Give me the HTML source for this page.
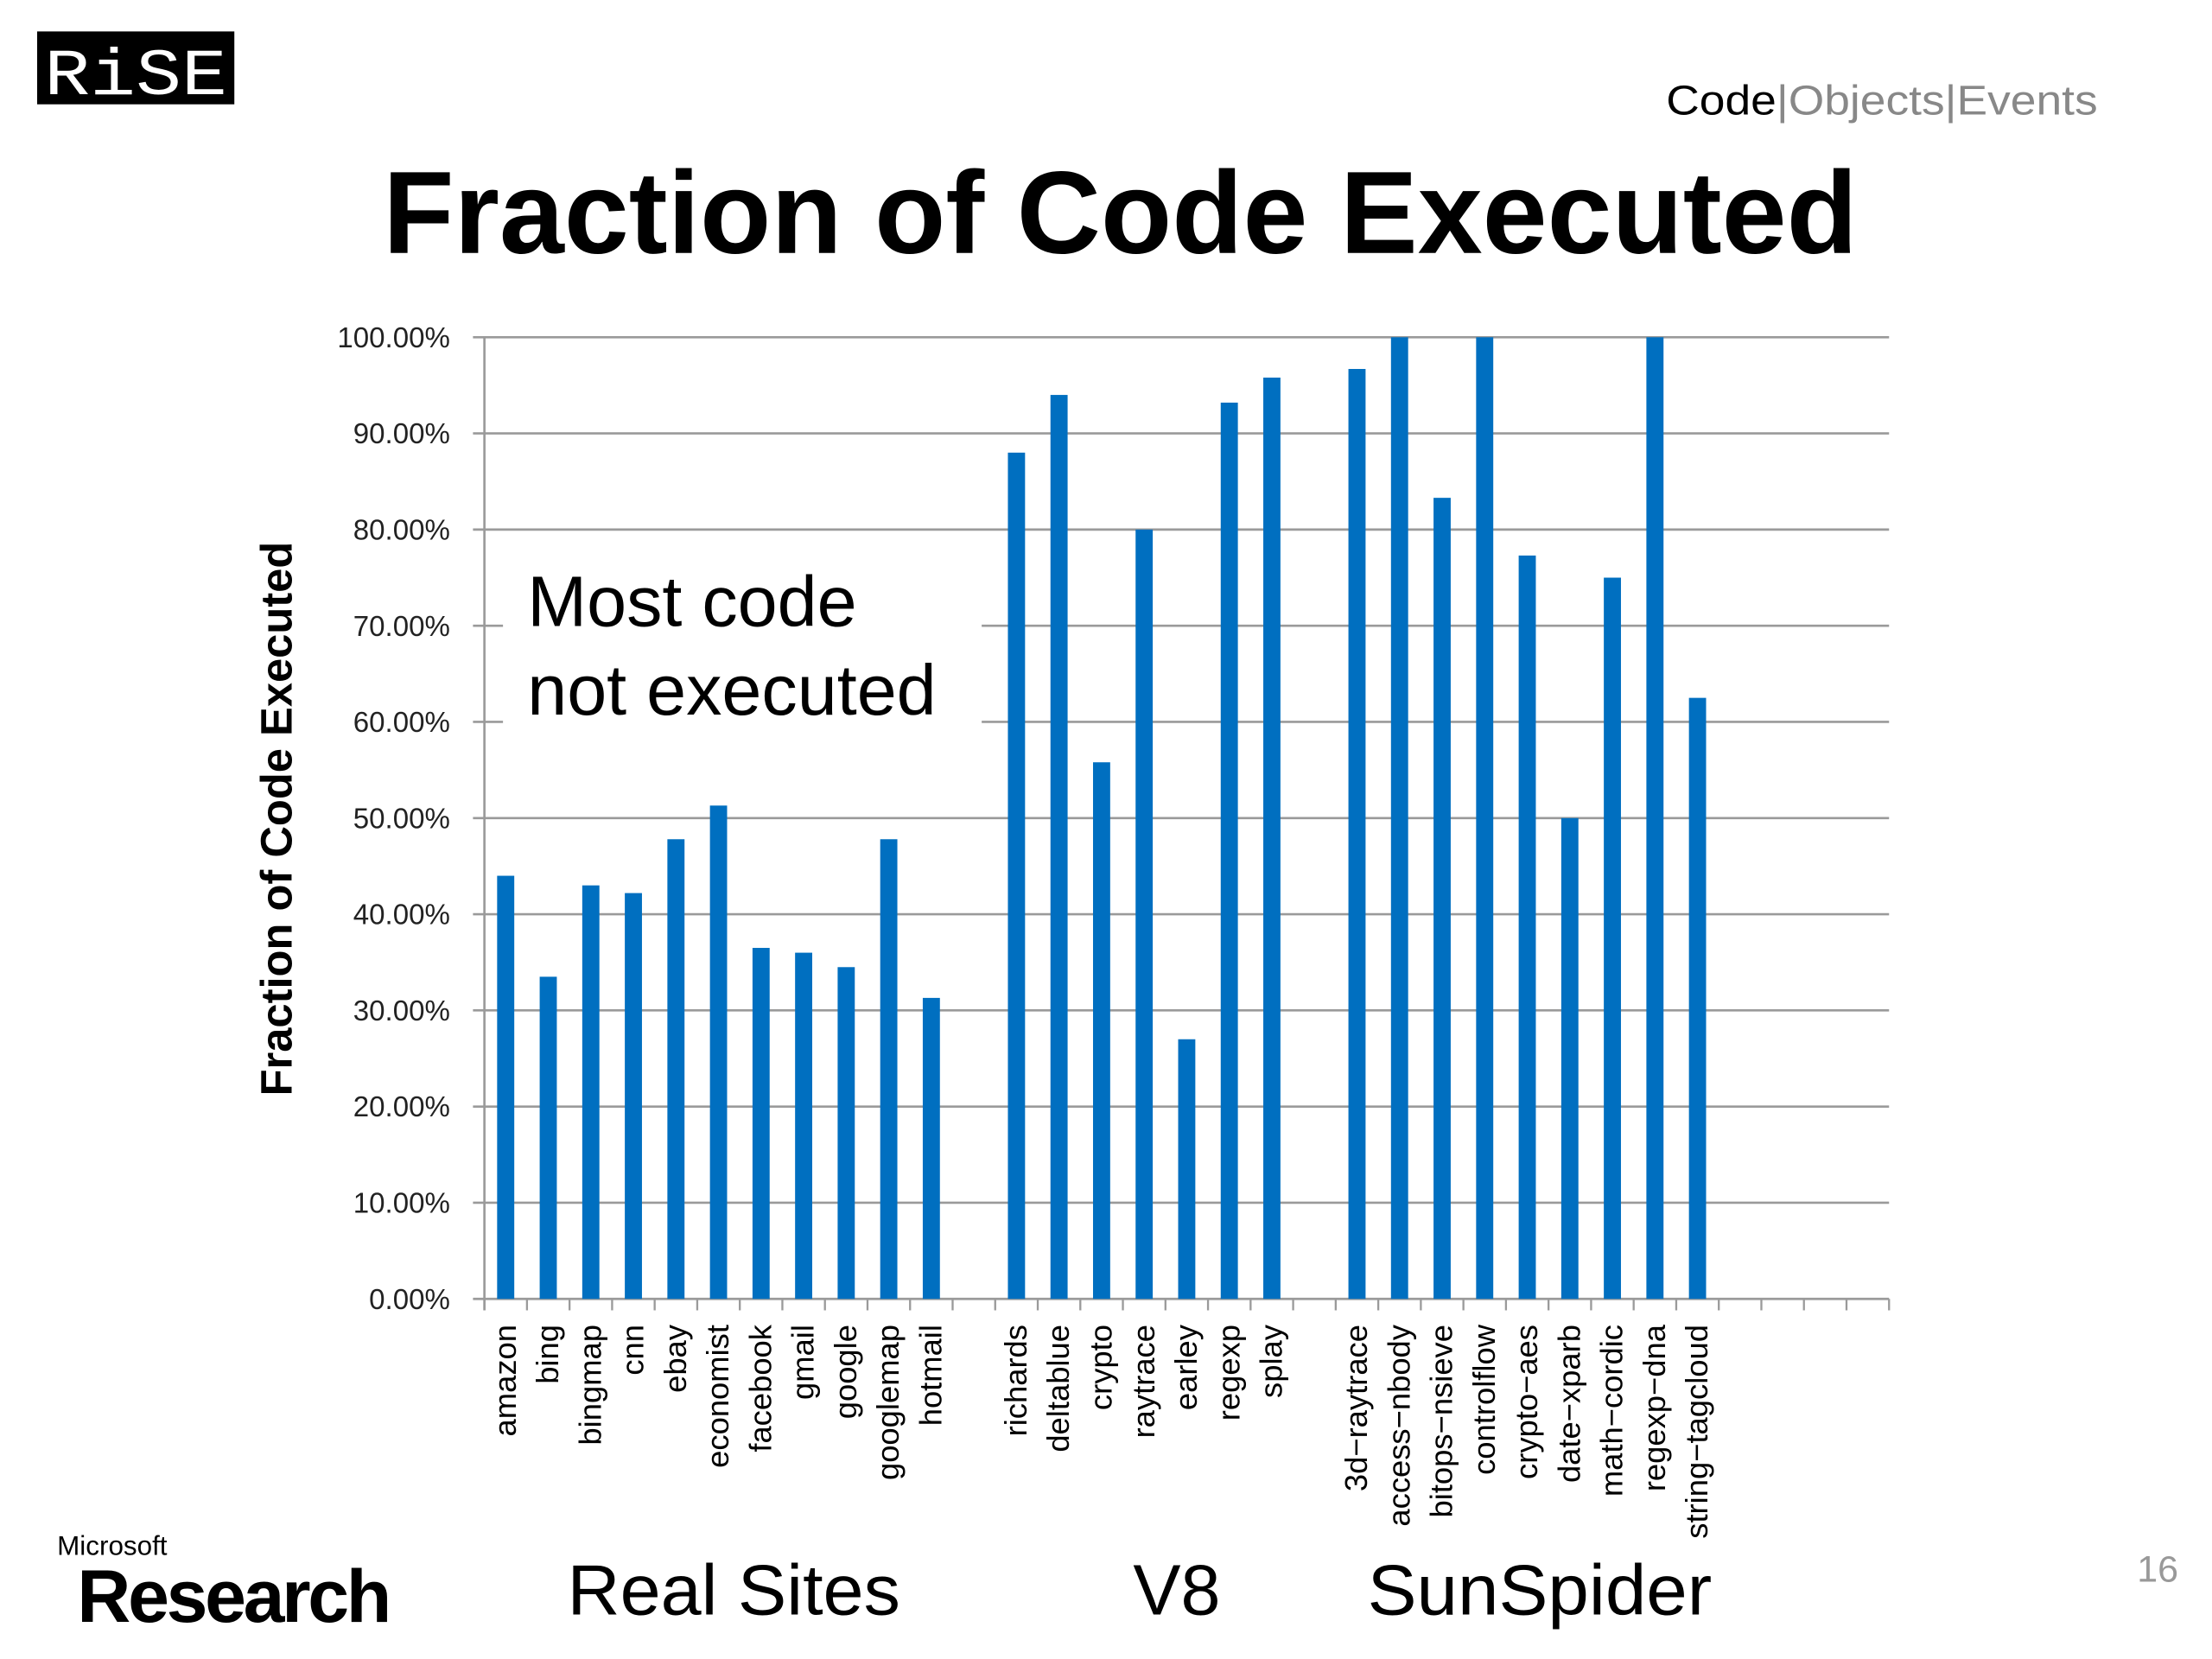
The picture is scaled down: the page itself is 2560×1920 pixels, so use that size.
<!DOCTYPE html>
<html><head><meta charset="utf-8">
<style>
html,body{margin:0;padding:0;background:#fff;}
svg{display:block;}
</style></head>
<body>
<svg id="chart" width="2560" height="1920" viewBox="0 0 1548 1161" xmlns="http://www.w3.org/2000/svg" font-family="Liberation Sans, sans-serif">
<rect x="0" y="0" width="1548" height="1161" fill="#fff"/>
<g>
<rect x="26" y="22" width="138" height="51" fill="#000"/>
<text x="95" y="66" text-anchor="middle" font-family="Liberation Mono, monospace" font-size="46" fill="#fff" textLength="128" lengthAdjust="spacingAndGlyphs">RiSE</text>
</g>
<text x="1166" y="80" font-size="29" fill="#000" textLength="302" lengthAdjust="spacingAndGlyphs">Code<tspan fill="#888">|Objects|Events</tspan></text>
<text x="268" y="177" font-size="82" font-weight="bold" fill="#000" textLength="1032" lengthAdjust="spacingAndGlyphs">Fraction of Code Executed</text>
<text transform="translate(204,573) rotate(-90)" text-anchor="middle" font-size="31" font-weight="bold" fill="#000" textLength="388" lengthAdjust="spacingAndGlyphs">Fraction of Code Executed</text>
<g id="grid"></g>
<g id="bars"></g>
<g id="xlabels"></g>
<g>
<rect x="352" y="382" width="335" height="140" fill="#fff"/>
<text x="369" y="438" font-size="50" fill="#000">Most code</text>
<text x="369" y="500" font-size="50" fill="#000">not executed</text>
</g>
<g>
<text x="40" y="1088" font-size="19" fill="#000">Microsoft</text>
<text x="54" y="1135" font-size="52" font-weight="bold" fill="#000" letter-spacing="-2">Research</text>
</g>
<text x="397" y="1130" font-size="50" fill="#000" textLength="233" lengthAdjust="spacingAndGlyphs">Real Sites</text>
<text x="793" y="1130" font-size="50" fill="#000">V8</text>
<text x="957" y="1130" font-size="50" fill="#000" textLength="241" lengthAdjust="spacingAndGlyphs">SunSpider</text>
<text x="1510" y="1107" font-size="26" fill="#999" text-anchor="middle">16</text>
</svg>
<script>
const categories = ["amazon","bing","bingmap","cnn","ebay","economist","facebook","gmail","google","googlemap","hotmail","","richards","deltablue","crypto","raytrace","earley","regexp","splay","","3d-raytrace","access-nbody","bitops-nsieve","controlflow","crypto-aes","date-xparb","math-cordic","regexp-dna","string-tagcloud","","","",""];
const values = [44,33.5,43,42.2,47.8,51.3,36.5,36,34.5,47.8,31.3,null,88,94,55.8,80,27,93.2,95.8,null,96.7,100,83.3,100,77.3,50,75,100,62.5,null,null,null,null];
const yTicks = [0,10,20,30,40,50,60,70,80,90,100];
const yTickLabels = ["0.00%","10.00%","20.00%","30.00%","40.00%","50.00%","60.00%","70.00%","80.00%","90.00%","100.00%"];

const NS = "http://www.w3.org/2000/svg";
const X0 = 339, X1 = 1322, Y0 = 909, Y1 = 236;
const slot = (X1 - X0) / categories.length;
function yScale(v){ return Y0 - (v / 100) * (Y0 - Y1); }
function xCenter(i){ return X0 + slot * (i + 0.5); }
function mk(tag, attrs){ const e = document.createElementNS(NS, tag); for (const k in attrs) e.setAttribute(k, attrs[k]); return e; }

const grid = document.getElementById('grid');
yTicks.forEach((t, i) => {
  const y = yScale(t);
  const l = mk('line', {x1: X0 - 8, x2: X1, y1: y, y2: y, stroke: '#9a9a9a', 'stroke-width': 1.6});
  
  
  grid.appendChild(l);
  const tx = mk('text', {x: 315, y: y + 7, 'text-anchor': 'end', 'font-size': 20, fill: '#222'});
  
  
  tx.textContent = yTickLabels[i];
  grid.appendChild(tx);
});
const ax = mk('line', {x1: X0, x2: X0, y1: Y1, y2: Y0 + 8, stroke: '#9a9a9a', 'stroke-width': 1.6});


grid.appendChild(ax);
for (let i = 0; i <= categories.length; i++) {
  const x = X0 + slot * i;
  const t = mk('line', {x1: x, x2: x, y1: Y0, y2: Y0 + 8, stroke: '#9a9a9a', 'stroke-width': 1.4});
  
  
  grid.appendChild(t);
}

const bars = document.getElementById('bars');
const xl = document.getElementById('xlabels');
categories.forEach((c, i) => {
  const v = values[i];
  if (v !== null && v !== undefined) {
    const y = yScale(v);
    const r = mk('rect', {x: xCenter(i) - 6, y: y, width: 12, height: Y0 - y, fill: '#006fc0'});
    
    
    bars.appendChild(r);
  }
  if (c) {
    const tx = mk('text', {transform: 'translate(' + (xCenter(i) + 7) + ',927) rotate(-90)', 'text-anchor': 'end', 'font-size': 22, fill: '#000'});
    
    
    tx.textContent = c.replace(/-/g, '\u2212');
    xl.appendChild(tx);
  }
});
</script>
</body></html>
